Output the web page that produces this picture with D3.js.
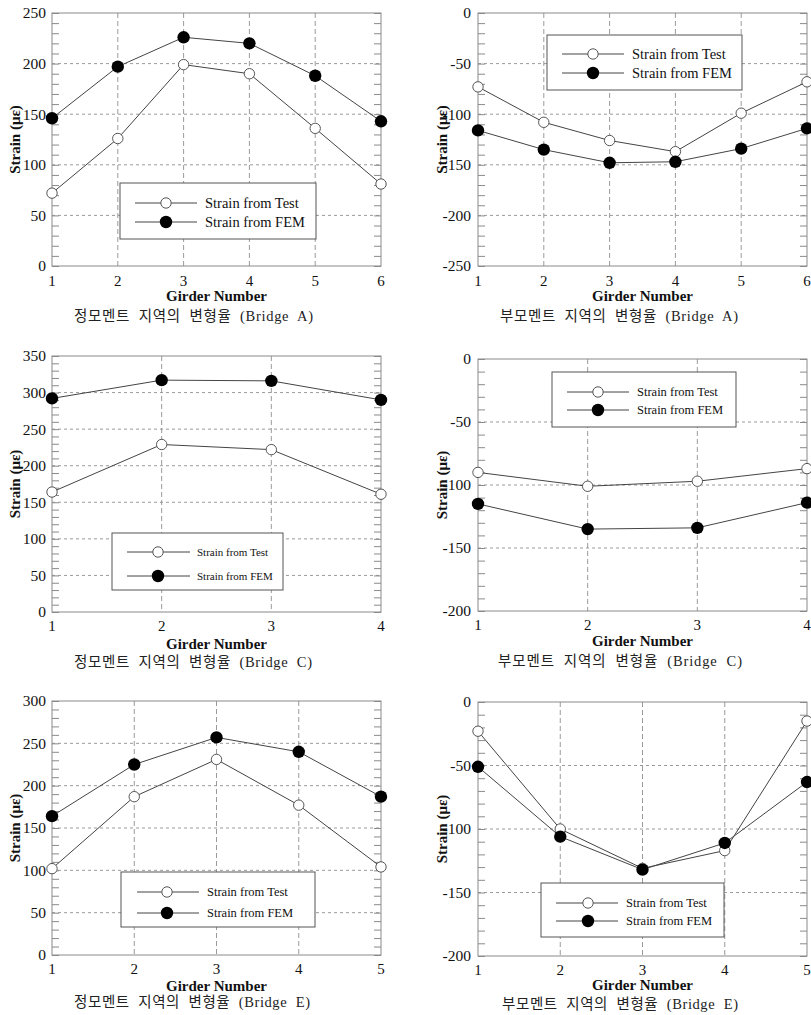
<!DOCTYPE html>
<html>
<head>
<meta charset="utf-8">
<script src="https://cdn.jsdelivr.net/npm/d3@7"></script>
<style>
  html, body { margin: 0; padding: 0; background: #fff; }
  svg { display: block; }
</style>
</head>
<body>
<svg id="chart" width="811" height="1015"></svg>
<script>
// ---------------- DATA ----------------
const girdersA = [1, 2, 3, 4, 5, 6];
const testPosA = [72, 126, 199, 190, 136, 81];
const femPosA  = [146, 197, 226, 220, 188, 143];
const testNegA = [-73, -108, -126, -137, -99, -68];
const femNegA  = [-116, -135, -148, -147, -134, -114];

const girdersC = [1, 2, 3, 4];
const testPosC = [164, 229, 222, 161];
const femPosC  = [292, 317, 316, 290];
const testNegC = [-90, -101, -97, -87];
const femNegC  = [-115, -135, -134, -114];

const girdersE = [1, 2, 3, 4, 5];
const testPosE = [102, 187, 231, 177, 104];
const femPosE  = [164, 225, 257, 240, 187];
const testNegE = [-23, -100, -131, -117, -15];
const femNegE  = [-51, -106, -132, -111, -63];

const yTicksPosA = [0, 50, 100, 150, 200, 250];
const yTicksNegA = [-250, -200, -150, -100, -50, 0];
const yTicksPosC = [0, 50, 100, 150, 200, 250, 300, 350];
const yTicksNeg200 = [-200, -150, -100, -50, 0];
const yTicksPosE = [0, 50, 100, 150, 200, 250, 300];

const seriesNames = ["Strain from Test", "Strain from FEM"];
const xTitle = "Girder Number";
const yTitle = "Strain (\u03BC\u03B5)";
const captions = [
  "정모멘트  지역의  변형율  (Bridge  A)",
  "부모멘트  지역의  변형율  (Bridge  A)",
  "정모멘트  지역의  변형율  (Bridge  C)",
  "부모멘트  지역의  변형율  (Bridge  C)",
  "정모멘트  지역의  변형율  (Bridge  E)",
  "부모멘트  지역의  변형율  (Bridge  E)"
];

// ---------------- LAYOUT ----------------
const panels = [
  { g: girdersA, test: testPosA, fem: femPosA, dom: [0, 250], ticks: yTicksPosA, cap: captions[0],
    box: [52, 381, 13, 266], ylx: 15, tlx: 46, tickY: 281, titleY: 296, capY: 316, capW: [74, 313],
    leg: { x0: 120, x1: 316, y0: 183, y1: 239, r1: 203, r2: 222, l0: 135, l1: 197, m: 166, t: 205, fs: 14.5 } },
  { g: girdersA, test: testNegA, fem: femNegA, dom: [-250, 0], ticks: yTicksNegA, cap: captions[1],
    box: [478, 807, 13, 266], ylx: 442, tlx: 471, tickY: 281, titleY: 296, capY: 316, capW: [500, 738],
    leg: { x0: 547, x1: 742, y0: 35, y1: 90, r1: 54, r2: 73, l0: 562, l1: 624, m: 593, t: 632, fs: 14.5 } },
  { g: girdersC, test: testPosC, fem: femPosC, dom: [0, 350], ticks: yTicksPosC, cap: captions[2],
    box: [52, 381, 356, 612], ylx: 15, tlx: 46, tickY: 626, titleY: 644, capY: 662, capW: [74, 312],
    leg: { x0: 112, x1: 283, y0: 533, y1: 590, r1: 552, r2: 576, l0: 127, l1: 190, m: 158, t: 197, fs: 11 } },
  { g: girdersC, test: testNegC, fem: femNegC, dom: [-200, 0], ticks: yTicksNeg200, cap: captions[3],
    box: [478, 807, 359, 611], ylx: 442, tlx: 471, tickY: 625, titleY: 641, capY: 661, capW: [498, 742],
    leg: { x0: 552, x1: 736, y0: 372, y1: 427, r1: 392, r2: 410, l0: 567, l1: 629, m: 598, t: 637, fs: 12.5 } },
  { g: girdersE, test: testPosE, fem: femPosE, dom: [0, 300], ticks: yTicksPosE, cap: captions[4],
    box: [52, 381, 701, 955], ylx: 15, tlx: 46, tickY: 969, titleY: 986, capY: 1002, capW: [74, 310],
    leg: { x0: 121, x1: 315, y0: 872, y1: 927, r1: 892, r2: 913, l0: 137, l1: 199, m: 167, t: 207, fs: 12.5 } },
  { g: girdersE, test: testNegE, fem: femNegE, dom: [-200, 0], ticks: yTicksNeg200, cap: captions[5],
    box: [478, 807, 702, 956], ylx: 442, tlx: 471, tickY: 970, titleY: 985, capY: 1004, capW: [502, 738],
    leg: { x0: 541, x1: 724, y0: 883, y1: 937, r1: 903, r2: 921, l0: 556, l1: 618, m: 588, t: 626, fs: 12.5 } }
];

const svg = d3.select("#chart");
const SERIF = "'Liberation Serif', 'Times New Roman', serif";
const CAPFONT = "'Liberation Serif', 'Noto Sans CJK KR', serif";
const RT = 5.2, RF = 6.2;
const lineCol = "#444";
const frameCol = "#8a8a8a";
const gridCol = "#8f8f8f";

panels.forEach(p => {
  const [L, Rr, T, B] = p.box;
  const x = d3.scaleLinear().domain([p.g[0], p.g[p.g.length - 1]]).range([L, Rr]);
  const y = d3.scaleLinear().domain(p.dom).range([B, T]);
  const g = svg.append("g");

  // horizontal grid
  g.selectAll(".hg").data(p.ticks.filter(t => t !== p.dom[0] && t !== p.dom[1]))
    .join("line")
    .attr("x1", L).attr("x2", Rr)
    .attr("y1", d => y(d)).attr("y2", d => y(d))
    .attr("stroke", gridCol).attr("stroke-width", 0.9)
    .attr("stroke-dasharray", "3,3");

  // vertical grid
  g.selectAll(".vg").data(p.g.slice(1, -1))
    .join("line")
    .attr("x1", d => x(d)).attr("x2", d => x(d))
    .attr("y1", T).attr("y2", B)
    .attr("stroke", gridCol).attr("stroke-width", 0.9)
    .attr("stroke-dasharray", "5,3");

  // minor ticks (every 10) on left and right, inward
  const minor = d3.range(p.dom[0], p.dom[1] + 0.001, 10);
  const axL = d3.axisRight(y).tickValues(minor).tickSize(7).tickFormat("");
  const axR = d3.axisLeft(y).tickValues(minor).tickSize(7).tickFormat("");
  const gl = g.append("g").attr("transform", `translate(${L},0)`).call(axL);
  const gr = g.append("g").attr("transform", `translate(${Rr},0)`).call(axR);
  [gl, gr].forEach(a => {
    a.select(".domain").remove();
    a.selectAll("line").attr("stroke", frameCol).attr("stroke-width", 1);
  });

  // frame
  g.append("rect").attr("x", L).attr("y", T).attr("width", Rr - L).attr("height", B - T)
    .attr("fill", "none").attr("stroke", frameCol).attr("stroke-width", 1);

  // y tick labels
  g.selectAll(".yl").data(p.ticks).join("text")
    .attr("x", p.tlx).attr("y", d => y(d))
    .attr("dy", "0.35em")
    .attr("text-anchor", "end")
    .attr("font-family", SERIF).attr("font-size", 15.5).attr("fill", "#111")
    .text(d => d);

  // x tick labels
  g.selectAll(".xl").data(p.g).join("text")
    .attr("x", d => x(d)).attr("y", p.tickY)
    .attr("dy", "0.35em")
    .attr("text-anchor", "middle")
    .attr("font-family", SERIF).attr("font-size", 15).attr("fill", "#111")
    .text(d => d);

  // x title
  g.append("text").attr("x", (L + Rr) / 2).attr("y", p.titleY).attr("dy", "0.35em")
    .attr("text-anchor", "middle").attr("font-family", SERIF).attr("font-weight", "bold")
    .attr("font-size", 15).attr("fill", "#111").text(xTitle);

  // y title
  g.append("text")
    .attr("transform", `translate(${p.ylx},${(T + B) / 2}) rotate(-90)`)
    .attr("dy", "0.35em")
    .attr("text-anchor", "middle").attr("font-family", SERIF).attr("font-weight", "bold")
    .attr("font-size", 15).attr("fill", "#111").text(yTitle);

  // caption
  g.append("text").attr("x", p.capW[0]).attr("y", p.capY).attr("dy", "0.35em")
    .attr("font-family", CAPFONT).attr("font-size", 14.5).attr("fill", "#222")
    .attr("textLength", p.capW[1] - p.capW[0]).attr("lengthAdjust", "spacing")
    .style("white-space", "pre")
    .text(p.cap);

  // lines
  const line = d3.line().x((d, i) => x(p.g[i])).y(d => y(d));
  [p.test, p.fem].forEach(s => {
    g.append("path").datum(s).attr("d", line)
      .attr("fill", "none").attr("stroke", lineCol).attr("stroke-width", 1);
  });

  // markers
  g.selectAll(".mt").data(p.test).join("circle")
    .attr("cx", (d, i) => x(p.g[i])).attr("cy", d => y(d)).attr("r", RT)
    .attr("fill", "#fff").attr("stroke", "#555").attr("stroke-width", 1);
  g.selectAll(".mf").data(p.fem).join("circle")
    .attr("cx", (d, i) => x(p.g[i])).attr("cy", d => y(d)).attr("r", RF)
    .attr("fill", "#000");

  // legend
  const lg = p.leg;
  g.append("rect").attr("x", lg.x0).attr("y", lg.y0).attr("width", lg.x1 - lg.x0).attr("height", lg.y1 - lg.y0)
    .attr("fill", "#fff").attr("stroke", "#555").attr("stroke-width", 1);
  [lg.r1, lg.r2].forEach((ry, i) => {
    g.append("line").attr("x1", lg.l0).attr("x2", lg.l1).attr("y1", ry).attr("y2", ry)
      .attr("stroke", lineCol).attr("stroke-width", 1);
    g.append("circle").attr("cx", lg.m).attr("cy", ry).attr("r", i === 0 ? RT : RF)
      .attr("fill", i === 0 ? "#fff" : "#000").attr("stroke", i === 0 ? "#555" : "none").attr("stroke-width", 1);
    g.append("text").attr("x", lg.t).attr("y", ry).attr("dy", "0.35em")
      .attr("font-family", SERIF).attr("font-size", lg.fs).attr("fill", "#111")
      .text(seriesNames[i]);
  });
});
</script>
</body>
</html>
